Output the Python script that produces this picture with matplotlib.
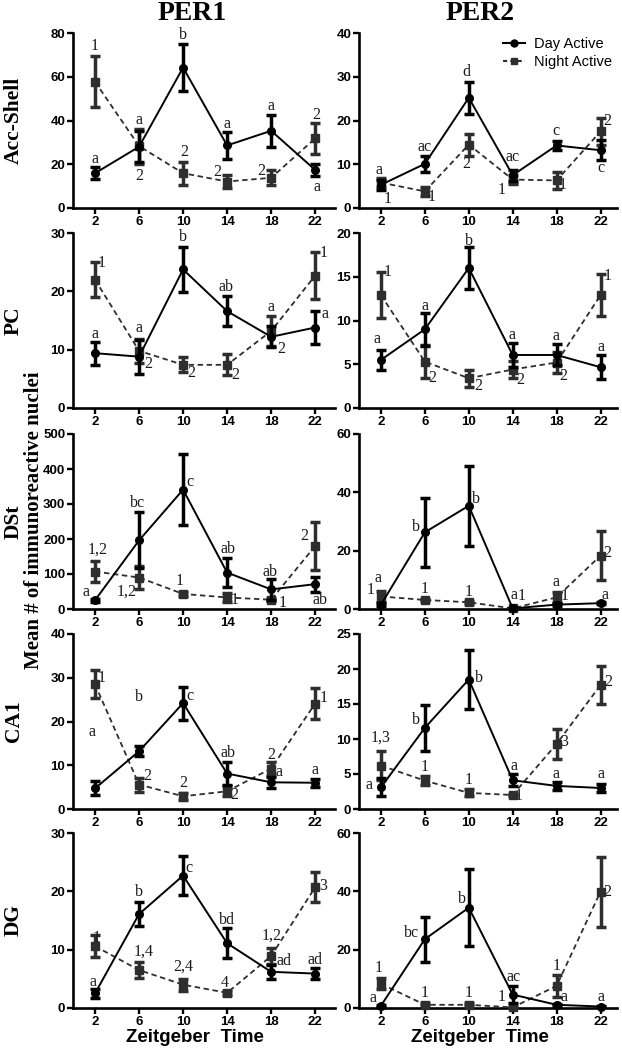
import matplotlib.pyplot as plt
from matplotlib.lines import Line2D

plt.rcParams["font.family"] = "Liberation Sans"

SERIF = "Liberation Serif"

zt = [2, 6, 10, 14, 18, 22]
regions = ["Acc-Shell", "PC", "DSt", "CA1", "DG"]
proteins = ["PER1", "PER2"]

# ---- PER1 ----
per1_acc_day = [15.9, 28.0, 64.2, 28.6, 35.3, 17.4]
per1_acc_day_err = [2.7, 7.0, 10.6, 6.0, 7.3, 2.7]
per1_acc_night = [57.7, 28.3, 15.9, 12.1, 13.8, 31.8]
per1_acc_night_err = [11.7, 8.0, 5.2, 3.0, 3.5, 7.0]
per1_acc_day_lbl = ["a", "a", "b", "a", "a", "a"]
per1_acc_night_lbl = ["1", "2", "2", "2", "2", "2"]

per1_pc_day = [9.4, 8.8, 23.75, 16.6, 12.2, 13.8]
per1_pc_day_err = [2.0, 2.9, 3.8, 2.6, 1.8, 2.8]
per1_pc_night = [22.0, 9.8, 7.4, 7.4, 13.2, 22.7]
per1_pc_night_err = [3.0, 2.0, 1.3, 1.8, 2.6, 4.0]
per1_pc_day_lbl = ["a", "a", "b", "ab", "a", "a"]
per1_pc_night_lbl = ["1", "2", "2", "2", "2", "1"]

per1_dst_day = [25, 196, 341, 104, 56, 71]
per1_dst_day_err = [4, 80, 102, 41, 30, 21]
per1_dst_night = [107, 90, 43, 33, 26.5, 180]
per1_dst_night_err = [31, 34, 5, 14, 4, 68]
per1_dst_day_lbl = ["a", "bc", "c", "ab", "ab", "ab"]
per1_dst_night_lbl = ["1,2", "1,2", "1", "1", "1", "2"]

per1_ca1_day = [4.7, 13.2, 24.2, 8.1, 6.1, 6.0]
per1_ca1_day_err = [1.6, 1.15, 3.8, 2.6, 1.3, 0.9]
per1_ca1_night = [28.5, 5.6, 2.9, 4.05, 9.25, 24.1]
per1_ca1_night_err = [3.2, 1.6, 0.8, 1.1, 1.5, 3.6]
per1_ca1_day_lbl = ["a", "b", "c", "ab", "a", "a"]
per1_ca1_night_lbl = ["1", "2", "2", "2", "2", "1"]

per1_dg_day = [2.5, 16.1, 22.7, 11.1, 6.2, 5.9]
per1_dg_day_err = [0.7, 2.1, 3.3, 2.6, 1.2, 1.0]
per1_dg_night = [10.6, 6.5, 4.0, 2.6, 8.9, 20.7]
per1_dg_night_err = [1.9, 1.4, 1.05, 0.3, 1.4, 2.6]
per1_dg_day_lbl = ["a", "b", "c", "bd", "ad", "ad"]
per1_dg_night_lbl = ["1", "1,4", "2,4", "4", "1,2", "3"]

# ---- PER2 ----
per2_acc_day = [5.3, 10.1, 25.2, 7.5, 14.3, 13.2]
per2_acc_day_err = [1.2, 1.9, 3.6, 1.3, 1.1, 2.3]
per2_acc_night = [5.8, 3.8, 14.5, 6.5, 6.3, 17.5]
per2_acc_night_err = [1.0, 1.0, 2.5, 1.0, 1.9, 3.1]
per2_acc_day_lbl = ["a", "ac", "d", "ac", "c", "c"]
per2_acc_night_lbl = ["1", "1", "2", "1", "1", "2"]

per2_pc_day = [5.5, 9.0, 16.0, 6.06, 6.06, 4.66]
per2_pc_day_err = [1.15, 1.9, 2.35, 1.4, 1.2, 1.4]
per2_pc_night = [12.9, 5.3, 3.4, 4.4, 5.2, 12.9]
per2_pc_night_err = [2.6, 1.9, 1.0, 1.0, 1.2, 2.4]
per2_pc_day_lbl = ["a", "a", "b", "a", "a", "a"]
per2_pc_night_lbl = ["1", "2", "2", "2", "2", "1"]

per2_dst_day = [1.5, 26.3, 35.4, 0.2, 1.5, 2.0]
per2_dst_day_err = [0.5, 11.8, 13.8, 0.2, 0.5, 0.3]
per2_dst_night = [4.3, 3.1, 2.3, 0.2, 4.0, 18.3]
per2_dst_night_err = [2.0, 0.5, 0.5, 0.2, 2.0, 8.4]
per2_dst_day_lbl = ["a", "b", "b", "a", "a", "a"]
per2_dst_night_lbl = ["1", "1", "1", "1", "1", "2"]

per2_ca1_day = [3.1, 11.6, 18.5, 4.1, 3.3, 3.0]
per2_ca1_day_err = [1.3, 3.3, 4.25, 0.85, 0.6, 0.6]
per2_ca1_night = [6.2, 4.05, 2.3, 2.0, 9.3, 17.7]
per2_ca1_night_err = [2.1, 0.6, 0.5, 0.2, 2.2, 2.75]
per2_ca1_day_lbl = ["a", "b", "b", "a", "a", "a"]
per2_ca1_night_lbl = ["1,3", "1", "1", "1", "3", "2"]

per2_dg_day = [0.8, 23.6, 34.4, 4.6, 1.1, 0.5]
per2_dg_day_err = [0.3, 7.7, 13.3, 2.85, 0.4, 0.2]
per2_dg_night = [8.3, 1.1, 1.1, 0.2, 7.6, 39.9]
per2_dg_night_err = [1.9, 0.5, 0.5, 0.2, 3.8, 12.0]
per2_dg_day_lbl = ["a", "bc", "b", "ac", "a", "a"]
per2_dg_night_lbl = ["1", "1", "1", "1", "1", "2"]

# axis ranges (ymax, step) per panel
per1_yaxis = [(80, 20), (30, 10), (500, 100), (40, 10), (30, 10)]
per2_yaxis = [(40, 10), (20, 5), (60, 20), (25, 5), (60, 20)]

# label placement: pixel offsets from each mean
per1_day_off = [
    [(0, 14), (0, 27), (0, 33), (0, 21), (0, 25), (2, -17)],
    [(0, 19), (0, 29), (0, 32), (-1, 24), (0, 30), (10, 14)],
    [(-9, 8), (-2, 37), (7, 8), (1, 24), (-1, 17), (5, -16)],
    [(-3, 56), (0, 54), (7, 7), (1, 21), (8, 10), (0, 13)],
    [(-2, 11), (0, 22), (6, 8), (0, 23), (13, 11), (0, 14)],
]
per1_night_off = [
    [(0, 36), (0, -30), (1, 21), (-10, 10), (-10, 7), (1, 23)],
    [(7, 17), (9, -13), (8, -8), (8, -10), (10, -18), (8, 23)],
    [(3, 22), (-12, -14), (-3, 13), (8, -3), (11, -3), (-11, 10)],
    [(7, 6), (8, 8), (0, 13), (7, -4), (0, 14), (8, 6)],
    [(2, 8), (5, 18), (0, 18), (-2, 10), (0, 20), (8, 1)],
]
per2_day_off = [
    [(-2, 15), (0, 17), (-2, 26), (0, 18), (-1, 14), (0, -18)],
    [(-4, 21), (0, 23), (0, 27), (-1, 20), (-1, 19), (0, 20)],
    [(-3, 27), (-9, 5), (7, 7), (1, 13), (-1, 23), (4, 8)],
    [(-12, 2), (-9, 8), (10, 2), (1, 14), (-1, 12), (0, 14)],
    [(-8, 8), (-13, 6), (-7, 9), (1, 18), (7, 8), (0, 10)],
]
per2_night_off = [
    [(7, -16), (7, -6), (-3, -19), (-11, -10), (6, -5), (7, 10)],
    [(7, 23), (7, -16), (9, -8), (8, -11), (7, -13), (7, 19)],
    [(-10, 6), (0, 11), (0, 10), (9, 12), (8, 1), (7, 3)],
    [(0, 28), (0, 14), (0, 13), (6, -1), (8, 2), (8, 3)],
    [(-2, 16), (0, 12), (0, 12), (-11, 10), (0, 20), (7, 0)],
]

panels = {
    "PER1": [
        (per1_acc_day, per1_acc_day_err, per1_acc_night, per1_acc_night_err,
         per1_acc_day_lbl, per1_acc_night_lbl),
        (per1_pc_day, per1_pc_day_err, per1_pc_night, per1_pc_night_err,
         per1_pc_day_lbl, per1_pc_night_lbl),
        (per1_dst_day, per1_dst_day_err, per1_dst_night, per1_dst_night_err,
         per1_dst_day_lbl, per1_dst_night_lbl),
        (per1_ca1_day, per1_ca1_day_err, per1_ca1_night, per1_ca1_night_err,
         per1_ca1_day_lbl, per1_ca1_night_lbl),
        (per1_dg_day, per1_dg_day_err, per1_dg_night, per1_dg_night_err,
         per1_dg_day_lbl, per1_dg_night_lbl),
    ],
    "PER2": [
        (per2_acc_day, per2_acc_day_err, per2_acc_night, per2_acc_night_err,
         per2_acc_day_lbl, per2_acc_night_lbl),
        (per2_pc_day, per2_pc_day_err, per2_pc_night, per2_pc_night_err,
         per2_pc_day_lbl, per2_pc_night_lbl),
        (per2_dst_day, per2_dst_day_err, per2_dst_night, per2_dst_night_err,
         per2_dst_day_lbl, per2_dst_night_lbl),
        (per2_ca1_day, per2_ca1_day_err, per2_ca1_night, per2_ca1_night_err,
         per2_ca1_day_lbl, per2_ca1_night_lbl),
        (per2_dg_day, per2_dg_day_err, per2_dg_night, per2_dg_night_err,
         per2_dg_day_lbl, per2_dg_night_lbl),
    ],
}
yaxes = {"PER1": per1_yaxis, "PER2": per2_yaxis}
offsets = {
    "PER1": (per1_day_off, per1_night_off),
    "PER2": (per2_day_off, per2_night_off),
}

W, H = 622, 1050
fig = plt.figure(figsize=(W / 100, H / 100), dpi=100)

col_left = {"PER1": 73, "PER2": 359}
col_width = {"PER1": 262, "PER2": 258}
col_xmax = {"PER1": 23.8, "PER2": 23.5}
row_top = [33, 233, 434, 634, 833]
row_h = 175

NIGHT = "#2e2e2e"


def draw_panel(ax, data, ymax, step, day_off, night_off):
    day, day_err, night, night_err, day_lbl, night_lbl = data
    ax.errorbar(zt, night, yerr=night_err, color=NIGHT, linestyle=(0, (3, 2)),
                linewidth=1.3, marker="s", markersize=6, elinewidth=2.5,
                capsize=3.8, capthick=2.5, clip_on=False, zorder=3)
    ax.errorbar(zt, day, yerr=day_err, color="black", linestyle="-",
                linewidth=1.4, marker="o", markersize=5.5, elinewidth=2.5,
                capsize=3.8, capthick=2.5, clip_on=False, zorder=4)
    for x, y, t, off in zip(zt, day, day_lbl, day_off):
        ax.annotate(t, (x, y), xytext=off, textcoords="offset pixels",
                    ha="center", va="center", family=SERIF, fontsize=11.5,
                    color="#1a1a1a")
    for x, y, t, off in zip(zt, night, night_lbl, night_off):
        ax.annotate(t, (x, y), xytext=off, textcoords="offset pixels",
                    ha="center", va="center", family=SERIF, fontsize=11.5,
                    color="#1a1a1a")
    ax.set_ylim(0, ymax)
    ax.set_yticks(range(0, ymax + 1, step))
    ax.set_xticks(zt)
    for side in ["top", "right"]:
        ax.spines[side].set_visible(False)
    for side in ["left", "bottom"]:
        ax.spines[side].set_linewidth(1.9)
    ax.tick_params(direction="out", length=4, width=1.7, labelsize=9.5, pad=1.5)
    for lbl in ax.get_xticklabels() + ax.get_yticklabels():
        lbl.set_fontweight("bold")


for prot in proteins:
    for r, region in enumerate(regions):
        left = col_left[prot] / W
        bottom = 1 - (row_top[r] + row_h) / H
        ax = fig.add_axes([left, bottom, col_width[prot] / W, row_h / H])
        ax.set_xlim(0, col_xmax[prot])
        ymax, step = yaxes[prot][r]
        draw_panel(ax, panels[prot][r], ymax, step,
                   offsets[prot][0][r], offsets[prot][1][r])
        if prot == "PER2" and r == 0:
            handles = [
                Line2D([], [], color="black", linestyle="-", linewidth=1.5,
                       marker="o", markersize=5),
                Line2D([], [], color=NIGHT, linestyle=(0, (2, 1.5)),
                       linewidth=1.5, marker="s", markersize=5),
            ]
            ax.legend(handles, ["Day Active", "Night Active"], loc="upper left",
                      bbox_to_anchor=(0.53, 1.02), frameon=False, fontsize=10.5,
                      handlelength=1.5, handletextpad=0.6, labelspacing=0.3,
                      borderpad=0)

# titles and labels
fig.text(192 / W, 1 - 14 / H, "PER1", ha="center", va="center",
         family=SERIF, fontweight="bold", fontsize=20)
fig.text(480 / W, 1 - 14 / H, "PER2", ha="center", va="center",
         family=SERIF, fontweight="bold", fontsize=20)

for r, region in enumerate(regions):
    yc = 1 - (row_top[r] + row_h / 2) / H
    fig.text(14 / W, yc, region, rotation=90, ha="center", va="center",
             family=SERIF, fontweight="bold", fontsize=15.5)

fig.text(34 / W, 1 - 520 / H, "Mean # of immunoreactive nuclei", rotation=90,
         ha="center", va="center", family=SERIF, fontweight="bold", fontsize=15)

fig.text(195 / W, 1 - 1037 / H, "Zeitgeber  Time", ha="center", va="center",
         fontweight="bold", fontsize=13.5)
fig.text(480 / W, 1 - 1037 / H, "Zeitgeber  Time", ha="center", va="center",
         fontweight="bold", fontsize=13.5)

fig.savefig("out.png", dpi=100)
